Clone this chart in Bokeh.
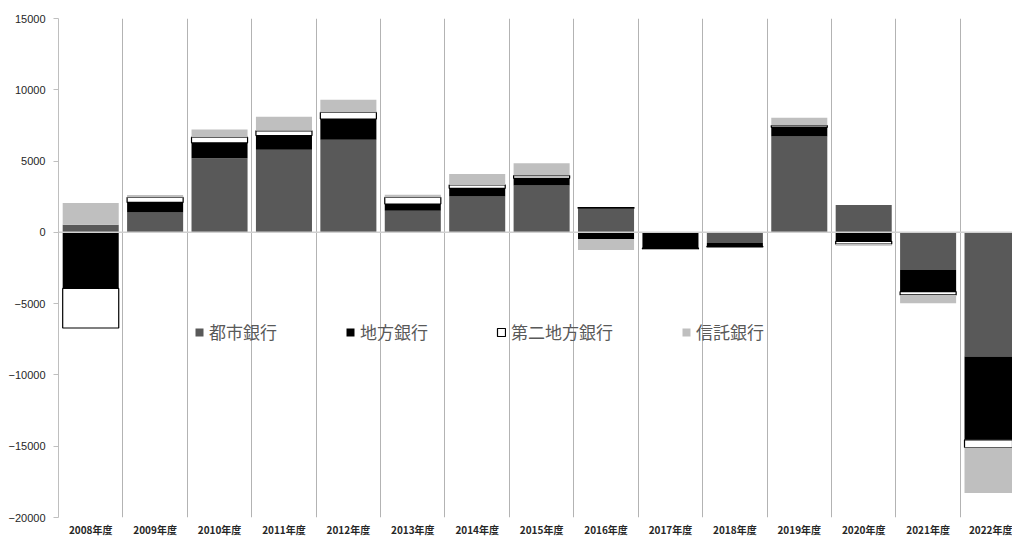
import numpy as np
from bokeh.plotting import figure
from bokeh.models import FixedTicker, Span, Legend, LegendItem, Range1d
from bokeh.embed import file_html
from bokeh.resources import INLINE

# Fiscal years
years = ["2008年度", "2009年度", "2010年度", "2011年度", "2012年度",
         "2013年度", "2014年度", "2015年度", "2016年度", "2017年度",
         "2018年度", "2019年度", "2020年度", "2021年度", "2022年度"]

# Series values by bank category
city = [540, 1400, 5200, 5800, 6500, 1520, 2510, 3280, 1690, 0,
        -750, 6720, 1920, -2640, -8700]
regional = [-3930, 700, 1080, 990, 1450, 470, 580, 510, -460, -1100,
            -240, 650, -630, -1520, -5850]
second_regional = [-2780, 350, 395, 330, 465, 460, 240, 190, 50, -60,
                   -30, 120, -190, -230, -540]
trust = [1520, 170, 540, 980, 890, 190, 770, 865, -770, -60,
         0, 540, -120, -590, -3200]

series_names = ["都市銀行", "地方銀行", "第二地方銀行", "信託銀行"]
series_values = [city, regional, second_regional, trust]
fills = ["#595959", "#000000", "#ffffff", "#bfbfbf"]
lines = [None, None, "#000000", None]

y_ticks = [-20000, -15000, -10000, -5000, 0, 5000, 10000, 15000]

n = len(years)
x = np.arange(n)

p = figure(width=1012, height=539, output_backend="svg", toolbar_location=None,
           x_range=Range1d(-0.5, 14.31), y_range=Range1d(-20000, 15000),
           min_border_left=58, min_border_right=0, min_border_top=18,
           min_border_bottom=22, outline_line_color=None,
           background_fill_color="white", border_fill_color="white")

# Stack positives upward and negatives downward from zero
pos_base = np.zeros(n)
neg_base = np.zeros(n)
renderers = []
for vals, fc, lc in zip(series_values, fills, lines):
    v = np.array(vals, dtype=float)
    bottom = np.where(v >= 0, pos_base, neg_base)
    top = bottom + v
    r = p.vbar(x=x, bottom=bottom, top=top, width=0.87,
               fill_color=fc, line_color=lc, line_width=1.2)
    renderers.append(r)
    pos_base = np.where(v > 0, top, pos_base)
    neg_base = np.where(v < 0, top, neg_base)

# Zero baseline
p.add_layout(Span(location=0, dimension="width", line_color="#d0d0d0", line_width=1.5))

# Vertical separators between fiscal years
p.ygrid.grid_line_color = None
p.xgrid.ticker = FixedTicker(ticks=[i + 0.5 for i in range(n)])
p.xgrid.grid_line_color = "#b3b3b3"
p.xgrid.grid_line_width = 1

# x axis: year labels only
p.xaxis.ticker = FixedTicker(ticks=list(range(n)))
p.xaxis.major_label_overrides = {i: y for i, y in enumerate(years)}
p.xaxis.axis_line_color = None
p.xaxis.major_tick_line_color = None
p.xaxis.minor_tick_line_color = None
p.xaxis.major_tick_out = 0
p.xaxis.major_tick_in = 0
p.xaxis.minor_tick_out = 0
p.xaxis.axis_label_standoff = 0
p.xaxis.major_label_standoff = 4
p.xaxis.major_label_text_font = "Noto Sans CJK JP"
p.xaxis.major_label_text_font_size = "10px"
p.xaxis.major_label_text_font_style = "bold"
p.xaxis.major_label_text_color = "#262626"

# y axis
p.yaxis.ticker = FixedTicker(ticks=y_ticks)
p.yaxis.axis_line_color = "#bfbfbf"
p.yaxis.major_tick_line_color = "#bfbfbf"
p.yaxis.major_tick_out = 5
p.yaxis.major_tick_in = 0
p.yaxis.minor_tick_line_color = None
p.yaxis.major_label_standoff = 8
p.yaxis.major_label_text_font = "Liberation Sans"
p.yaxis.major_label_text_font_size = "11px"
p.yaxis.major_label_text_color = "#262626"

legend = Legend(
    items=[LegendItem(label=nm, renderers=[r]) for nm, r in zip(series_names, renderers)],
    orientation="horizontal", location=(136, 173), spacing=68,
    glyph_width=10, glyph_height=10, label_standoff=5,
    padding=0, margin=0, border_line_color=None, background_fill_alpha=0,
    label_text_font="Noto Sans CJK JP", label_text_font_size="17px",
    label_text_color="#595959",
)
p.add_layout(legend)

open("out.html", "w").write(file_html(p, INLINE))
